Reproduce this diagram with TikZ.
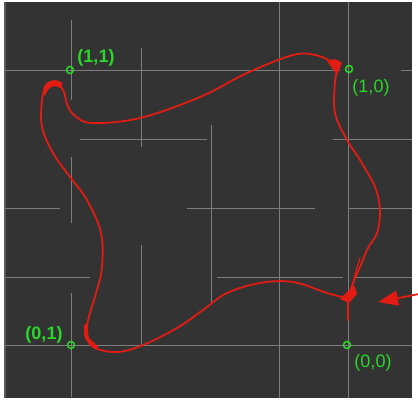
\documentclass[tikz,border=0pt]{standalone}
\usepackage{fontspec}
\setmainfont{Liberation Sans}
\usetikzlibrary{arrows.meta}
\definecolor{bgdark}{RGB}{51,51,51}
\definecolor{gridgray}{RGB}{125,125,125}
\definecolor{curvered}{RGB}{226,28,18}
\definecolor{markgreen}{RGB}{40,215,40}
\tikzset{
  gridline/.style={draw=gridgray, line width=0.9pt},
  redcurve/.style={draw=curvered, line width=1.8pt, line cap=round, line join=round},
  redblob/.style={fill=curvered},
  marker/.style={circle, draw=markgreen, line width=1.5pt, minimum size=7pt, inner sep=0pt},
  lbl/.style={text=markgreen, font=\fontsize{18}{20}\selectfont, inner sep=0pt},
  lblbold/.style={lbl, font=\fontsize{18}{20}\selectfont\bfseries},
}
\begin{document}
\begin{tikzpicture}[x=1pt,y=-1pt]
\useasboundingbox (0,0) rectangle (418,404);
\fill[white] (0,0) rectangle (418,404);
\fill[bgdark] (4,2) rectangle (412,398);
\draw[draw={rgb,255:red,90;green,90;blue,90}, line width=1.5pt] (5,2) -- (5,398);
% grid horizontals
\draw[gridline] (5,70) -- (340,70);
\draw[gridline] (401,70) -- (412,70);
\draw[gridline] (80,139) -- (207,139);
\draw[gridline] (333,139) -- (412,139);
\draw[gridline] (5,208) -- (60,208);
\draw[gridline] (187,208) -- (315,208);
\draw[gridline] (348,208) -- (412,208);
\draw[gridline] (5,277) -- (90,277);
\draw[gridline] (217,277) -- (343,277);
\draw[gridline] (355,277) -- (412,277);
\draw[gridline] (5,345) -- (412,345);
% grid verticals
\draw[gridline] (71,20) -- (71,100);
\draw[gridline] (71,157) -- (71,223);
\draw[gridline] (71,293) -- (71,397);
\draw[gridline] (141,48) -- (141,147);
\draw[gridline] (141,245) -- (141,345);
\draw[gridline] (211,125) -- (211,303);
\draw[gridline] (279,2) -- (279,398);
\draw[gridline] (348,2) -- (348,398);
% red curve
\draw[redcurve] plot[smooth, tension=0.6] coordinates {(58,83) (64,92) (67,104) (74,115) (92,123) (140,118) (200,97) (247,73) (293,55) (315,55) (330,61) (338,68)};
\draw[redcurve] plot[smooth, tension=0.6] coordinates {(338,68) (335,82) (335,113) (347,140) (360,160) (375,187) (380,210) (377,233) (368,248) (360,267) (353,283) (349,296)};
\draw[redcurve, line width=1.2pt] plot[smooth, tension=0.6] coordinates {(360,258) (355,275) (350,297)};
\draw[redcurve] plot[smooth, tension=0.6] coordinates {(346,298) (327,293) (293,282) (260,283) (227,293) (203,310) (177,328) (143,345) (117,352) (93,347) (85,333)};
\draw[redcurve] plot[smooth, tension=0.6] coordinates {(85,333) (90,313) (97,290) (102,267) (101,233) (87,200) (70,177) (53,153) (42,127) (42,100) (46,88) (55,82)};
% blobs
\fill[redblob] (43,90) .. controls (44,80) and (58,77) .. (63,84) -- (60,88) .. controls (55,84) and (48,86) .. (45,96) -- cycle;
\fill[redblob] (327,61) .. controls (332,58) and (338,59) .. (342,63) -- (337,75) -- cycle;
\fill[redblob] (340,299) -- (354,285) -- (357,294) -- (349,303) -- cycle;
\draw[redcurve, line width=4pt] plot[smooth] coordinates {(86,326) (87,338) (96,347)};
\draw[redcurve, line width=1.4pt] (348,298) -- (348,320);
% markers
\node[marker] (p11) at (70,70) {};
\node[marker] (p10) at (349,69) {};
\node[marker] (p01) at (71,345) {};
\node[marker] (p00) at (347,345) {};
% labels
\node[lblbold] (l11) at (96,58) {(1,1)};
\node[lbl] (l10) at (371,88) {(1,0)};
\node[lblbold] (l01) at (44,335) {(0,1)};
\node[lbl] (l00) at (373,363) {(0,0)};
% arrow
\coordinate (arrtail) at (419,294);
\coordinate (arrtip) at (378,302);
\draw[draw=curvered, line width=1.8pt, -{Triangle[length=20pt,width=15pt]}] (arrtail) -- (arrtip);
\end{tikzpicture}
\end{document}
